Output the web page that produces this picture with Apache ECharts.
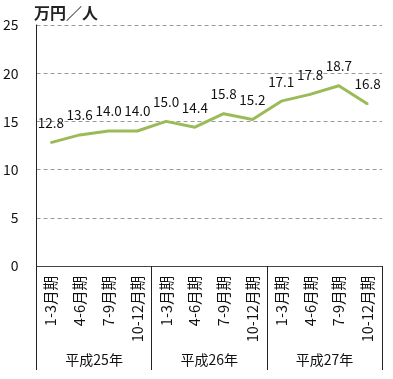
<!DOCTYPE html>
<html><head><meta charset="utf-8">
<script src="https://cdn.jsdelivr.net/npm/echarts@6/dist/echarts.min.js"></script>
<style>html,body{margin:0;padding:0;background:#fff}#c{width:393px;height:379px}</style>
</head><body><div id="c"></div>
<script>
const categories = ['1-3月期','4-6月期','7-9月期','10-12月期','1-3月期','4-6月期','7-9月期','10-12月期','1-3月期','4-6月期','7-9月期','10-12月期'];
const years = ['平成25年','平成26年','平成27年'];
const values = [12.8,13.6,14.0,14.0,15.0,14.4,15.8,15.2,17.1,17.8,18.7,16.8];
const yTicks = [0,5,10,15,20,25];
const unitLabel = '万円／人';

const font = '"Noto Sans CJK JP", "Noto Sans", sans-serif';
const chart = echarts.init(document.getElementById('c'), null, {renderer:'canvas'});
chart.setOption({
  animation:false,
  textStyle:{fontFamily:font},
  title:{text:unitLabel,left:29,top:0,textStyle:{fontSize:16,fontWeight:'bold',color:'#222',fontFamily:font}},
  grid:{left:36,right:11,top:25,bottom:113},
  xAxis:[{
    type:'category',data:categories,boundaryGap:true,
    axisLine:{lineStyle:{color:'#444',width:1}},
    axisTick:{show:false},
    axisLabel:{rotate:90,interval:0,fontSize:14.5,color:'#111',margin:10,fontFamily:font}
  },{
    type:'category',data:years,position:'bottom',offset:104,boundaryGap:true,
    axisLine:{show:false},
    axisTick:{show:true,inside:true,length:104,interval:0,lineStyle:{color:'#222',width:1}},
    axisLabel:{inside:true,margin:3,fontSize:14,color:'#111',fontFamily:font,interval:0}
  }],
  yAxis:{
    type:'value',min:yTicks[0],max:yTicks[yTicks.length-1],interval:5,
    axisLine:{show:true,lineStyle:{color:'#222',width:1}},
    axisTick:{show:false},
    axisLabel:{fontSize:14,color:'#111',margin:18,fontFamily:font},
    splitLine:{lineStyle:{color:'#999',type:[4,3],width:1}}
  },
  series:[{
    type:'line',data:values,xAxisIndex:0,
    symbol:'circle',symbolSize:2,showSymbol:true,showAllSymbol:true,
    itemStyle:{color:'#9BBB59'},
    lineStyle:{color:'#9BBB59',width:3},
    label:{show:true,position:'top',distance:12,fontSize:13.5,color:'#111',fontFamily:font,formatter:function(p){return Number(p.value).toFixed(1);}}
  }]
});
</script></body></html>
